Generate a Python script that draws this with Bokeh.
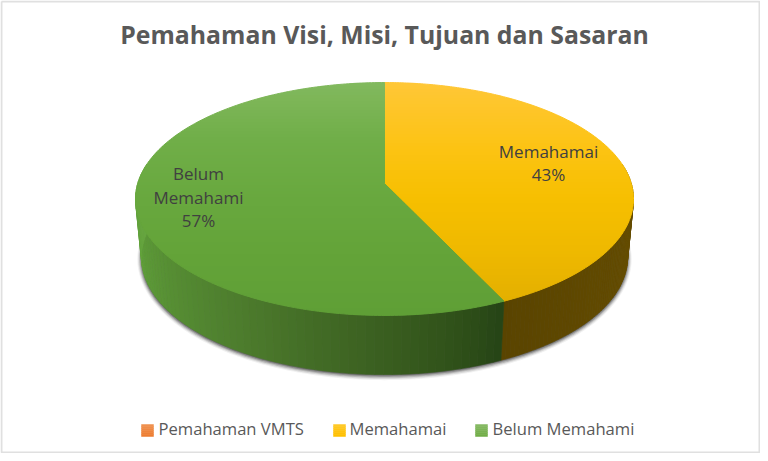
import numpy as np
from bokeh.plotting import figure
from bokeh.models import Range1d
from bokeh.core.properties import value
from bokeh.embed import file_html
from bokeh.resources import INLINE

title_text = "Pemahaman Visi, Misi, Tujuan dan Sasaran"
categories = ["Pemahaman VMTS", "Memahamai", "Belum Memahami"]
values = [0, 43, 57]
legend_colors = ["#ED7D31", "#FFC000", "#70AD47"]

FONT = "Open Sans"
W, H = 760, 453

p = figure(width=W, height=H, output_backend="svg", toolbar_location=None,
           x_range=Range1d(0, W), y_range=Range1d(H, 0),
           min_border=0, outline_line_color=None, background_fill_color="white")
p.axis.visible = False
p.grid.visible = False

CX = 384.0
TOP = dict(A=246.8, B=114.4, k=0.133, cy=183.0)
BOT = dict(A=241.0, B=115.0, k=0.131, cy=241.7)


def proj(theta_deg, g, grow=0.0):
    t = np.radians(theta_deg)
    u, v = np.sin(t), -np.cos(t)
    d = 1 - g["k"] * v
    return CX + (g["A"] + grow) * u / d, g["cy"] + (g["B"] + grow) * v / d


def hexrgb(h):
    return np.array([int(h[i:i + 2], 16) for i in (1, 3, 5)], float)


def ramp(x, xs, colors):
    arr = np.array([hexrgb(c) for c in colors])
    rgb = [int(round(np.interp(x, xs, arr[:, i]))) for i in range(3)]
    return "#%02x%02x%02x" % tuple(rgb)


def clip_band(poly, y0, y1):
    def clip(pts, inside, cut):
        out = []
        for i in range(len(pts)):
            a, b = pts[i], pts[(i + 1) % len(pts)]
            ia, ib = inside(a), inside(b)
            if ia:
                out.append(a)
            if ia != ib:
                s = (cut - a[1]) / (b[1] - a[1])
                out.append((a[0] + s * (b[0] - a[0]), cut))
        return out
    r = clip(poly, lambda q: q[1] >= y0, y0)
    if r:
        r = clip(r, lambda q: q[1] <= y1, y1)
    return r


total = sum(values)
ang = np.cumsum([0] + [v / total * 360 for v in values])
spans = {c: (ang[i], ang[i + 1]) for i, c in enumerate(categories)}

# soft shadow below the body
th = np.linspace(0, 360, 361)
for grow, alpha in [(4, .07), (3, .13), (2, .2), (1, .3), (0, .4)]:
    sx, sy = proj(th, BOT, grow)
    p.patch(sx, sy + 1, fill_color="#333333", fill_alpha=alpha, line_color=None)

# side wall, drawn as narrow colour strips
sxs, sys, scs = [], [], []
side_ramps = {
    "Memahamai": ([0, 1], ["#6b5200", "#5a4400"]),
    "Belum Memahami": ([0, .07, .26, .45, .8, 1], ["#264516", "#2f5019", "#3f6623", "#4d7d2d", "#60a03a", "#6aa843"]),
}
for c, (xs, cols) in side_ramps.items():
    a0, a1 = spans[c]
    a0v, a1v = max(a0, 80), min(a1, 280)
    edges = np.linspace(a0v, a1v, 70)
    for e0, e1 in zip(edges[:-1], edges[1:]):
        x0, y0 = proj(e0, TOP)
        x1, y1 = proj(e1, TOP)
        x2, y2 = proj(e1, BOT)
        x3, y3 = proj(e0, BOT)
        sxs.append([x0, x1, x2, x3])
        sys.append([y0, y1, y2, y3])
        scs.append(ramp((e0 - a0v) / (a1v - a0v), xs, cols))
p.patches(sxs, sys, fill_color=scs, line_color=scs, line_width=0.6)

# top face with a vertical colour ramp
top_ramps = {
    "Memahamai": ([82, 150, 200, 250, 315], ["#ffc737", "#fcc312", "#f6bf00", "#efb900", "#e0ad00"]),
    "Belum Memahami": ([82, 140, 200, 260, 315], ["#82b95e", "#70ae48", "#68a83e", "#63a338", "#5f9f36"]),
}
txs, tys, tcs = [], [], []
bands = np.arange(80, 320, 3.0)
for c, (xs, cols) in top_ramps.items():
    a0, a1 = spans[c]
    a = np.linspace(a0, a1, 240)
    ax, ay = proj(a, TOP)
    poly = [(CX, TOP["cy"])] + list(zip(ax, ay))
    for b in bands:
        part = clip_band(poly, b, b + 3.0)
        if len(part) >= 3:
            txs.append([q[0] for q in part])
            tys.append([q[1] for q in part])
            tcs.append(ramp(b + 1.5, xs, cols))
p.patches(txs, tys, fill_color=tcs, line_color=tcs, line_width=1)

# title
p.text([384], [33.5], text=[title_text], text_font=value(FONT), text_font_style="bold",
       text_font_size="24.8px", text_color="#595959", text_align="center", text_baseline="middle")

# data labels, read from the values
label_lines = {"Memahamai": (["Memahamai"], 548, [151, 174]),
               "Belum Memahami": (["Belum", "Memahami"], 198, [173, 197, 220])}
for c, (words, lx, lys) in label_lines.items():
    texts = words + ["%d%%" % round(values[categories.index(c)] / total * 100)]
    p.text([lx] * len(texts), lys, text=texts, text_font=value(FONT), text_font_size="17px",
           text_color="#404040", text_align="center", text_baseline="middle")

# legend
sq_left = [141, 333, 475]
txt_left = [158, 349, 492]
for c, col, sl, tl in zip(categories, legend_colors, sq_left, txt_left):
    base = hexrgb(col)
    for i in range(6):
        mix = (5 - i) / 5 * 0.15
        rgb = base + (255 - base) * mix
        shade = "#%02x%02x%02x" % tuple(int(v) for v in rgb)
        p.quad(left=[sl], right=[sl + 12], top=[424 + i * 2], bottom=[424 + (i + 1) * 2],
               fill_color=shade, line_color=shade, line_width=0.5)
    p.text([tl], [428], text=[c], text_font=value(FONT), text_font_size="16.6px",
           text_color="#595959", text_align="left", text_baseline="middle")

# chart-area frame
p.line([1, 1, W - 1, W - 1, 1], [1, H - 1, H - 1, 1, 1], line_color="#e0e0e0", line_width=2)

open("out.html", "w").write(file_html(p, INLINE))
